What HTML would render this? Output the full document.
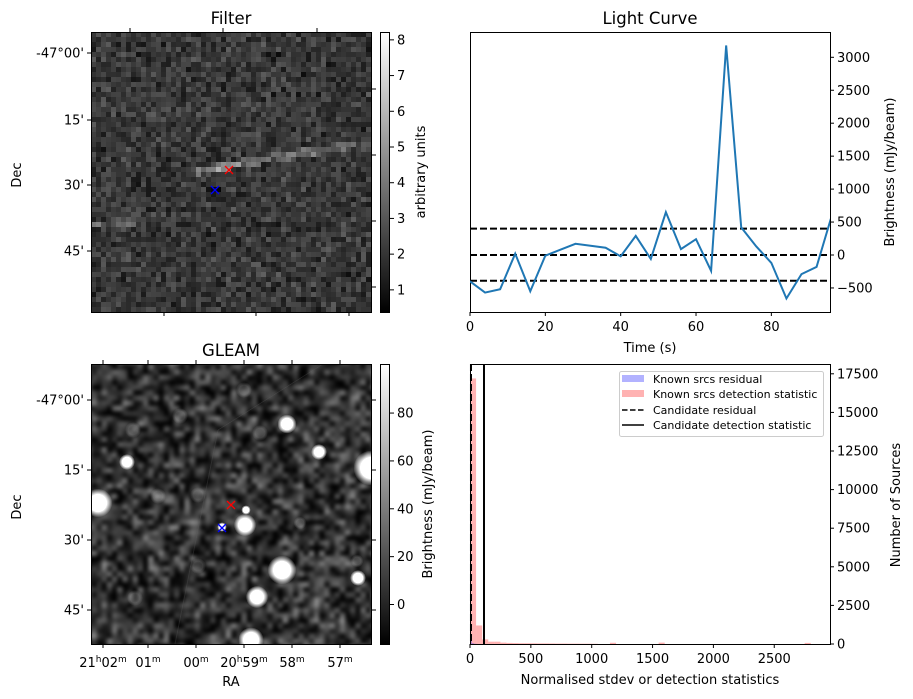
<!DOCTYPE html>
<html><head><meta charset="utf-8"><style>
html,body{margin:0;padding:0;background:#fff;width:913px;height:699px;overflow:hidden}
#wrap{position:relative;width:913px;height:699px;font-family:"DejaVu Sans","Liberation Sans",sans-serif}
canvas{position:absolute;image-rendering:pixelated}
svg{position:absolute;left:0;top:0}
text{font-family:"DejaVu Sans","Liberation Sans",sans-serif;fill:#000}
</style></head><body>
<div id="wrap">
<canvas id="filt" width="280" height="280" style="left:91px;top:32px;width:280px;height:280px"></canvas>
<canvas id="gleam" width="280" height="280" style="left:91px;top:364px;width:280px;height:280px"></canvas>
<svg id="s" width="913" height="699" xmlns="http://www.w3.org/2000/svg">
<defs>
<linearGradient id="cb" x1="0" y1="1" x2="0" y2="0"><stop offset="0" stop-color="#000"/><stop offset="1" stop-color="#fff"/></linearGradient>
<clipPath id="lcclip"><rect x="470" y="32" width="360" height="280"/></clipPath>
</defs>
<g id="g"></g>
</svg>
</div>
<script>
// ---- light curve data ----
const lcTimes=[0,4,8,12,16,20,24,28,32,36,40,44,48,52,56,60,64,68,72,76,80,84,88,92,96];
const lcFlux=[-400,-570,-520,20,-550,-10,80,170,140,110,-20,290,-60,650,90,240,-240,3180,420,130,-120,-660,-290,-180,590];
const lcLevels=[400,0,-390];
const lcXTicks=[0,20,40,60,80];
const lcYTicks=[-500,0,500,1000,1500,2000,2500,3000];
// ---- histogram data ----
const histBinWidth=50;
const histDetCounts=[17200,1200,300,150,150,90,70,60,50,50,45,40,40,35,30,30,25,25,20,20,15,0,0,80,0,0,0,0,0,0,0,90,0,0,0,0,0,0,0,0,0,0,0,0,0,0,0,0,0,0,0,0,0,0,0,70,0,0,0];
const histResCounts=[250,60,20,10];
const candResidual=8;
const candDetection=115;
const histXTicks=[0,500,1000,1500,2000,2500];
const histYTicks=[0,2500,5000,7500,10000,12500,15000,17500];
// ---- image annotations ----
const filtCbTicks=[1,2,3,4,5,6,7,8];
const gleamCbTicks=[0,20,40,60,80];
const decLabels=["-47°00'","15'","30'","45'"];
const raLabels=[["21","h","02","m"],["01","m"],["00","m"],["20","h","59","m"],["58","m"],["57","m"]];
const gleamSources=[[287,424,6],[127,462,5],[98,503,9],[371,468,11],[319,452,5],[245,525,7],[246,510,3],[282,570,9],[257,597,7],[251,640,8],[358,578,5],[222,527,3]];
const gleamFaint=[[180,416,5],[198,495,5],[133,430,5],[300,523,4],[198,566,5],[158,496,5],[260,433,5],[244,390,5],[135,598,5],[357,561,4]];

const NS="http://www.w3.org/2000/svg";
const G=document.getElementById('g');
const FS=13;
function el(tag,attrs,parent){const e=document.createElementNS(NS,tag);for(const k in attrs)e.setAttribute(k,attrs[k]);(parent||G).appendChild(e);return e;}
function txt(x,y,s,opt){const t=el('text',Object.assign({x:x,y:y,'font-size':FS},opt||{}));t.textContent=s;return t;}

// seeded texture generator for image noise
let seed=12345;function rnd(){seed=(seed*1103515245+12345)&0x7fffffff;return seed/0x7fffffff;}

// ---- Filter image ----
(function(){
 const c=document.getElementById('filt').getContext('2d');const N=56,px=5;
 for(let j=0;j<N;j++)for(let i=0;i<N;i++){
  let v=0.2+0.16*(rnd()+rnd()-1)+0.04*rnd();
  const x=91+i*px+2.5,y=32+j*px+2.5;
  const sy=170-(x-205)*0.17;
  if(x>195&&Math.abs(y-sy)<4)v+=0.2*(x<240?1.6:0.9)*(0.7+0.5*rnd());
  if(x<135&&Math.abs(y-(225+(x-91)*-0.1))<4)v+=0.16*(0.7+0.5*rnd());
  if(Math.abs(x-215)<5&&Math.abs(y-190)<5)v-=0.1;
  v=Math.max(0,Math.min(1,v));const g=Math.round(v*255);
  c.fillStyle=`rgb(${g},${g},${g})`;c.fillRect(i*px,j*px,px,px);
 }
})();
// ---- GLEAM image ----
(function(){
 const cv=document.getElementById('gleam');const c=cv.getContext('2d');
 const tmp=document.createElement('canvas');tmp.width=56;tmp.height=56;const t=tmp.getContext('2d');
 for(let j=0;j<56;j++)for(let i=0;i<56;i++){let v=0.19+0.4*(rnd()+rnd()-1);v=Math.max(0,Math.min(1,v));const g=Math.round(v*255);t.fillStyle=`rgb(${g},${g},${g})`;t.fillRect(i,j,1,1);}
 c.imageSmoothingEnabled=true;c.filter='blur(1.5px)';c.drawImage(tmp,-5,-5,290,290);c.filter='none';
 c.strokeStyle='rgba(100,100,100,0.25)';c.lineWidth=1;c.beginPath();c.moveTo(323-91,0);c.lineTo(218-91,430-364);c.lineTo(175-91,280);c.stroke();
 function blob(x,y,r,a){const gr=c.createRadialGradient(x-91,y-364,0,x-91,y-364,r*1.6);gr.addColorStop(0,`rgba(255,255,255,${a})`);gr.addColorStop(0.6,`rgba(255,255,255,${a})`);gr.addColorStop(1,'rgba(255,255,255,0)');c.fillStyle=gr;c.beginPath();c.arc(x-91,y-364,r*1.6,0,7);c.fill();}
 gleamSources.forEach(s=>blob(s[0],s[1],s[2],1));
 gleamFaint.forEach(s=>blob(s[0],s[1],s[2],0.2));
})();

// ---- image frames, ticks, colorbars ----
function imgPanel(top,title,cbMin,cbMax,cbTicks,cbLabel,cbLabelX,decYs,rightYs,topXs,botXs,name){
 el('rect',{x:91.5,y:top+0.5,width:280,height:280,fill:'none',stroke:'#000','stroke-width':1,});
 txt(231,top-8,title,{'font-size':16.5,'text-anchor':'middle',});
 decYs.forEach((y,k)=>{el('line',{x1:87,x2:91,y1:y,y2:y,stroke:'#000'});txt(84,y+4.5,decLabels[k],{'text-anchor':'end',});});
 rightYs.forEach(y=>el('line',{x1:372,x2:376,y1:y,y2:y,stroke:'#000'}));
 topXs.forEach(x=>el('line',{x1:x,x2:x,y1:top,y2:top-4,stroke:'#000'}));
 botXs.forEach(x=>el('line',{x1:x,x2:x,y1:top+280,y2:top+284,stroke:'#000'}));
 const d=el('text',{x:21,y:top+143,'font-size':FS,'text-anchor':'middle',transform:`rotate(-90 21 ${top+143})`,});d.textContent='Dec';
 el('rect',{x:380.5,y:top+0.5,width:9,height:280,fill:'url(#cb)',stroke:'#000','stroke-width':1,});
 cbTicks.forEach(v=>{const y=top+280-(v-cbMin)/(cbMax-cbMin)*280;el('line',{x1:390,x2:394,y1:y,y2:y,stroke:'#000'});txt(397,y+4.5,String(v),{});});
 const l=el('text',{x:cbLabelX,y:top+140,'font-size':FS,'text-anchor':'middle',transform:`rotate(-90 ${cbLabelX} ${top+140})`,});l.textContent=cbLabel;
}
imgPanel(32,'Filter',0.38,8.22,filtCbTicks,'arbitrary units',425,[53,120,185,251],[89,155,221,287],[130,223,317],[164,256,349],'filter');
imgPanel(364,'GLEAM',-16.5,100.5,gleamCbTicks,'Brightness (mJy/beam)',432,[400,470,540,610],[400,470,540,610],[103,148,196,244,292,340],[103,148,196,244,292,340],'gleam');
// RA labels
const raX=[103,148,196,244,292,340];
raLabels.forEach((parts,k)=>{const t=el('text',{x:raX[k],y:667,'font-size':FS,'text-anchor':'middle',});parts.forEach((p,i)=>{const s=el('tspan',i%2?{'font-size':9,dy:-5}:{'font-size':FS,dy:i?5:0},t);s.textContent=p;});});
txt(231,686,'RA',{'text-anchor':'middle',});
function xmark(x,y,col,n){const g2=el('g',{stroke:col,'stroke-width':1.3,});el('line',{x1:x-4,y1:y-4,x2:x+4,y2:y+4},g2);el('line',{x1:x-4,y1:y+4,x2:x+4,y2:y-4},g2);}
xmark(229,170,'#f00','filter-red-marker');xmark(215,190,'#00f','filter-blue-marker');
xmark(231,505,'#f00','gleam-red-marker');xmark(222,528,'#00f','gleam-blue-marker');

// ---- light curve ----
const lcX=t=>470+t*3.767, lcY=v=>255-v*0.0659;
el('rect',{x:470.5,y:32.5,width:360,height:280,fill:'none',stroke:'#000',});
txt(650,24,'Light Curve',{'font-size':16.5,'text-anchor':'middle',});
const lcG=el('g',{'clip-path':'url(#lcclip)'});
lcLevels.forEach(v=>{const l=el('line',{x1:470,x2:830,y1:lcY(v),y2:lcY(v),stroke:'#000','stroke-width':2,'stroke-dasharray':'7,3'},lcG);});
const lp=el('polyline',{points:lcTimes.map((t,i)=>lcX(t)+','+lcY(lcFlux[i])).join(' '),fill:'none',stroke:'#1f77b4','stroke-width':2},lcG);

lcXTicks.forEach(t=>{const x=lcX(t);el('line',{x1:x,x2:x,y1:312,y2:316,stroke:'#000'});txt(x,331,String(t),{'text-anchor':'middle',});});
lcYTicks.forEach(v=>{const y=lcY(v);el('line',{x1:830,x2:834,y1:y,y2:y,stroke:'#000'});txt(837,y+4.5,String(v).replace('-','−'),{});});
txt(650,352,'Time (s)',{'text-anchor':'middle',});
(function(){const t=el('text',{x:894,y:172,'font-size':FS,'text-anchor':'middle',transform:'rotate(-90 894 172)',});t.textContent='Brightness (mJy/beam)';})();

// ---- histogram ----
const hX=v=>470+v*0.1217, hY=c=>644-c*0.01544;
histDetCounts.forEach((c,i)=>{if(!c)return;const r=el('rect',{x:hX(i*histBinWidth),y:hY(c),width:histBinWidth*0.1217,height:644-hY(c),fill:'rgba(255,0,0,0.3)'});});
histResCounts.forEach((c,i)=>{const r=el('rect',{x:hX(i*histBinWidth*0.3),y:hY(c),width:histBinWidth*0.3*0.1217,height:644-hY(c),fill:'rgba(0,0,255,0.3)'});});
el('line',{x1:hX(candResidual),x2:hX(candResidual),y1:364,y2:644,stroke:'#000','stroke-width':2,'stroke-dasharray':'7,3',});
el('line',{x1:hX(candDetection),x2:hX(candDetection),y1:364,y2:644,stroke:'#000','stroke-width':2,});
el('rect',{x:470.5,y:364.5,width:360,height:280,fill:'none',stroke:'#000',});
histXTicks.forEach(v=>{const x=hX(v);el('line',{x1:x,x2:x,y1:644,y2:648,stroke:'#000'});txt(x,663,String(v),{'text-anchor':'middle',});});
histYTicks.forEach(v=>{const y=hY(v);el('line',{x1:830,x2:834,y1:y,y2:y,stroke:'#000'});txt(837,y+4.5,String(v),{});});
txt(650,684,'Normalised stdev or detection statistics',{'text-anchor':'middle',});
(function(){const t=el('text',{x:900,y:505,'font-size':FS,'text-anchor':'middle',transform:'rotate(-90 900 505)',});t.textContent='Number of Sources';})();
// legend
const lg=el('g',{});
el('rect',{x:619.5,y:371.5,width:204,height:65,rx:2,fill:'#fff','fill-opacity':0.8,stroke:'#ccc'},lg);
el('rect',{x:622,y:375,width:22,height:7,fill:'rgba(0,0,255,0.3)'},lg);
el('rect',{x:622,y:390,width:22,height:7,fill:'rgba(255,0,0,0.3)'},lg);
el('line',{x1:622,x2:644,y1:410,y2:410,stroke:'#000','stroke-width':1.5,'stroke-dasharray':'5.5,2.5'},lg);
el('line',{x1:622,x2:644,y1:425,y2:425,stroke:'#000','stroke-width':1.5},lg);
[['Known srcs residual',383],['Known srcs detection statistic',398],['Candidate residual',414],['Candidate detection statistic',429]].forEach(a=>{const t=el('text',{x:653,y:a[1],'font-size':11,},lg);t.textContent=a[0];});
</script>
</body></html>
